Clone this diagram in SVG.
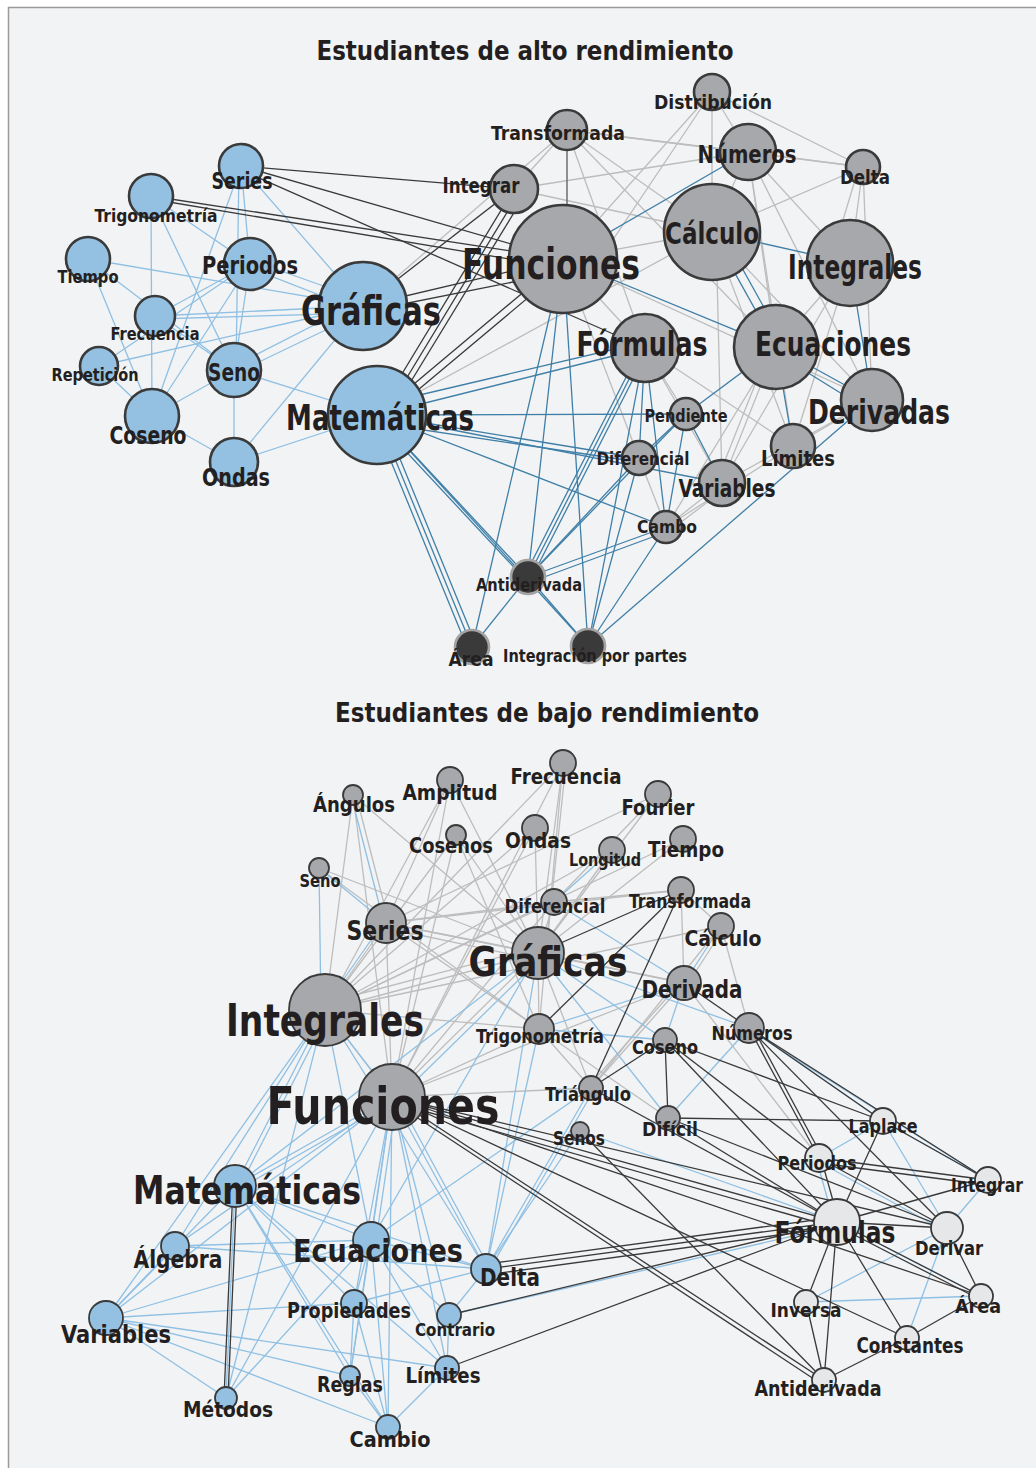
<svg xmlns="http://www.w3.org/2000/svg" width="1036" height="1468" viewBox="0 0 1036 1468">
<style>
.bg{fill:#f2f3f5;stroke:#9a9a9a;stroke-width:1.5}
text{font-family:"Liberation Sans Narrow","DejaVu Sans Condensed","Liberation Sans",sans-serif;font-weight:700;fill:#231f20;text-anchor:middle}
.ttl{font-weight:700}
.lb line{stroke:#8fc0e3;stroke-width:1.3}
.dk line{stroke:#3a3a3a;stroke-width:1.3}
.gy line{stroke:#bdbdbd;stroke-width:1.3}
.mg line{stroke:#6e6e6e;stroke-width:1.5}
.sb line{stroke:#3f7fa7;stroke-width:1.3}
.top circle{stroke:#3a3a3a;stroke-width:2.6}
.bot circle{stroke:#3a3a3a;stroke-width:1.8}
.nb circle{fill:#94c1e2}
.ng circle{fill:#a7a8ab}
.nd circle{fill:#3a3a3a;stroke:#a3a3a3}
.nw circle{fill:#e6e7e9}
</style>
<rect class="bg" x="8.5" y="7.5" width="1040" height="1470"/>
<text class="ttl" x="525" y="60" font-size="27" textLength="417" lengthAdjust="spacingAndGlyphs">Estudiantes de alto rendimiento</text>
<text class="ttl" x="547" y="722" font-size="27" textLength="424" lengthAdjust="spacingAndGlyphs">Estudiantes de bajo rendimiento</text>

<g id="edges-top">
<g class="lb">
<line x1="241" y1="166" x2="250" y2="264"/><line x1="241" y1="166" x2="363" y2="306"/><line x1="241" y1="166" x2="152" y2="416"/><line x1="239" y1="166" x2="236" y2="370"/>
<line x1="250" y1="264" x2="234" y2="370"/><line x1="250" y1="264" x2="152" y2="416"/>
<line x1="151" y1="196" x2="152" y2="416"/><line x1="151" y1="196" x2="234" y2="370"/><line x1="151" y1="196" x2="250" y2="264"/>
<line x1="88" y1="259" x2="363" y2="306"/><line x1="88" y1="259" x2="234" y2="370"/><line x1="88" y1="259" x2="152" y2="416"/>
<line x1="155" y1="316" x2="363" y2="306"/><line x1="155" y1="319" x2="363" y2="313"/><line x1="155" y1="316" x2="250" y2="264"/><line x1="155" y1="316" x2="234" y2="370"/>
<line x1="99" y1="366" x2="363" y2="306"/><line x1="99" y1="366" x2="250" y2="264"/><line x1="99" y1="366" x2="152" y2="416"/>
<line x1="152" y1="416" x2="234" y2="370"/><line x1="152" y1="416" x2="234" y2="462"/>
<line x1="234" y1="366" x2="363" y2="300"/><line x1="234" y1="374" x2="363" y2="312"/><line x1="234" y1="370" x2="234" y2="462"/><line x1="234" y1="370" x2="377" y2="415"/>
<line x1="234" y1="462" x2="363" y2="306"/><line x1="234" y1="462" x2="377" y2="415"/>
<line x1="250" y1="260" x2="363" y2="300"/><line x1="250" y1="268" x2="363" y2="312"/>
</g>
<g class="gy">
<line x1="712" y1="92" x2="748" y2="152"/><line x1="712" y1="92" x2="863" y2="167"/><line x1="712" y1="92" x2="712" y2="232"/><line x1="712" y1="92" x2="563" y2="259"/><line x1="712" y1="92" x2="600" y2="259"/>
<line x1="567" y1="130" x2="514" y2="189"/><line x1="567" y1="130" x2="748" y2="152"/><line x1="567" y1="130" x2="712" y2="232"/><line x1="567" y1="130" x2="776" y2="347"/><line x1="567" y1="130" x2="645" y2="348"/><line x1="567" y1="130" x2="863" y2="167"/><line x1="567" y1="130" x2="363" y2="306"/>
<line x1="514" y1="189" x2="748" y2="152"/><line x1="514" y1="189" x2="712" y2="232"/>
<line x1="748" y1="152" x2="863" y2="167"/><line x1="748" y1="152" x2="712" y2="232"/><line x1="748" y1="152" x2="850" y2="263"/><line x1="748" y1="152" x2="776" y2="347"/><line x1="748" y1="152" x2="872" y2="400"/><line x1="748" y1="152" x2="793" y2="446"/>
<line x1="863" y1="167" x2="712" y2="232"/><line x1="863" y1="167" x2="850" y2="263"/><line x1="859" y1="167" x2="830" y2="263"/><line x1="863" y1="167" x2="872" y2="400"/>
<line x1="563" y1="259" x2="712" y2="232"/><line x1="563" y1="259" x2="645" y2="348"/><line x1="563" y1="259" x2="872" y2="400"/><line x1="563" y1="259" x2="639" y2="458"/>
<line x1="377" y1="415" x2="712" y2="232"/>
<line x1="716" y1="232" x2="722" y2="483"/><line x1="712" y1="232" x2="872" y2="400"/><line x1="712" y1="232" x2="793" y2="446"/>
<line x1="850" y1="263" x2="776" y2="347"/><line x1="850" y1="263" x2="793" y2="446"/><line x1="850" y1="263" x2="722" y2="483"/>
<line x1="776" y1="347" x2="722" y2="483"/><line x1="770" y1="347" x2="716" y2="483"/><line x1="776" y1="347" x2="666" y2="527"/>
<line x1="645" y1="348" x2="793" y2="446"/><line x1="645" y1="348" x2="722" y2="483"/><line x1="645" y1="348" x2="686" y2="414"/>
<line x1="872" y1="400" x2="793" y2="446"/><line x1="872" y1="400" x2="722" y2="483"/>
<line x1="639" y1="458" x2="666" y2="527"/><line x1="722" y1="483" x2="666" y2="527"/><line x1="726" y1="488" x2="668" y2="532"/><line x1="793" y1="446" x2="666" y2="527"/>
</g>
<g class="mg"><line x1="567" y1="130" x2="567" y2="259"/></g>
<g class="dk">
<line x1="241" y1="166" x2="514" y2="189"/><line x1="241" y1="166" x2="563" y2="259"/><line x1="241" y1="170" x2="645" y2="348"/>
<line x1="151" y1="196" x2="563" y2="259"/><line x1="151" y1="199" x2="563" y2="268"/>
<line x1="363" y1="306" x2="563" y2="259"/><line x1="363" y1="312" x2="563" y2="272"/><line x1="363" y1="306" x2="514" y2="189"/>
<line x1="377" y1="415" x2="514" y2="189"/><line x1="383" y1="417" x2="520" y2="191"/><line x1="388" y1="419" x2="526" y2="193"/>
<line x1="377" y1="415" x2="563" y2="259"/><line x1="381" y1="421" x2="567" y2="265"/>
</g>
<g class="sb">
<line x1="563" y1="259" x2="748" y2="152"/><line x1="563" y1="259" x2="776" y2="347"/>
<line x1="712" y1="232" x2="850" y2="263"/><line x1="712" y1="232" x2="776" y2="347"/><line x1="722" y1="232" x2="786" y2="347"/>
<line x1="850" y1="263" x2="872" y2="400"/><line x1="776" y1="347" x2="872" y2="400"/><line x1="776" y1="353" x2="868" y2="410"/><line x1="776" y1="347" x2="793" y2="446"/><line x1="776" y1="347" x2="686" y2="414"/>
<line x1="645" y1="348" x2="639" y2="458"/><line x1="645" y1="348" x2="666" y2="527"/><line x1="645" y1="348" x2="528" y2="577"/><line x1="641" y1="348" x2="524" y2="577"/><line x1="649" y1="348" x2="532" y2="577"/><line x1="645" y1="348" x2="588" y2="646"/><line x1="645" y1="348" x2="377" y2="415"/><line x1="645" y1="342" x2="377" y2="405"/>
<line x1="872" y1="400" x2="588" y2="646"/>
<line x1="686" y1="414" x2="722" y2="483"/><line x1="686" y1="414" x2="666" y2="527"/><line x1="686" y1="414" x2="639" y2="458"/><line x1="686" y1="414" x2="377" y2="415"/><line x1="686" y1="414" x2="528" y2="577"/>
<line x1="639" y1="458" x2="377" y2="415"/><line x1="639" y1="462" x2="377" y2="423"/><line x1="639" y1="458" x2="528" y2="577"/><line x1="639" y1="458" x2="588" y2="646"/>
<line x1="666" y1="527" x2="528" y2="577"/><line x1="666" y1="532" x2="528" y2="583"/><line x1="666" y1="527" x2="588" y2="646"/><line x1="666" y1="527" x2="377" y2="415"/>
<line x1="528" y1="577" x2="377" y2="415"/><line x1="523" y1="577" x2="372" y2="415"/><line x1="528" y1="577" x2="588" y2="646"/><line x1="528" y1="577" x2="472" y2="647"/><line x1="528" y1="577" x2="563" y2="259"/>
<line x1="472" y1="647" x2="377" y2="415"/><line x1="467" y1="647" x2="372" y2="415"/><line x1="477" y1="647" x2="382" y2="415"/><line x1="472" y1="647" x2="563" y2="259"/>
<line x1="588" y1="646" x2="563" y2="259"/><line x1="588" y1="646" x2="377" y2="415"/><line x1="377" y1="415" x2="722" y2="483"/>
</g>
</g>

<g id="edges-bottom">
<g class="gy">
<line x1="353" y1="795" x2="325" y2="1010"/><line x1="356" y1="795" x2="389" y2="923"/><line x1="353" y1="795" x2="538" y2="953"/><line x1="353" y1="795" x2="392" y2="1097"/>
<line x1="450" y1="780" x2="325" y2="1010"/><line x1="450" y1="780" x2="392" y2="1097"/><line x1="450" y1="780" x2="538" y2="953"/><line x1="450" y1="780" x2="386" y2="923"/>
<line x1="456" y1="835" x2="392" y2="1097"/><line x1="456" y1="835" x2="538" y2="953"/><line x1="456" y1="835" x2="325" y2="1010"/><line x1="456" y1="835" x2="539" y2="1029"/>
<line x1="563" y1="763" x2="325" y2="1010"/><line x1="563" y1="763" x2="538" y2="953"/><line x1="566" y1="763" x2="546" y2="953"/><line x1="563" y1="763" x2="539" y2="1029"/><line x1="563" y1="763" x2="392" y2="1097"/>
<line x1="658" y1="794" x2="538" y2="953"/><line x1="658" y1="794" x2="386" y2="923"/><line x1="658" y1="794" x2="554" y2="902"/>
<line x1="535" y1="828" x2="538" y2="953"/><line x1="535" y1="828" x2="325" y2="1010"/><line x1="535" y1="828" x2="392" y2="1097"/>
<line x1="612" y1="850" x2="538" y2="953"/><line x1="612" y1="850" x2="325" y2="1010"/>
<line x1="683" y1="839" x2="538" y2="953"/><line x1="683" y1="839" x2="325" y2="1010"/>
<line x1="319" y1="868" x2="538" y2="953"/><line x1="319" y1="868" x2="539" y2="1029"/>
<line x1="386" y1="923" x2="538" y2="953"/><line x1="386" y1="928" x2="538" y2="960"/><line x1="386" y1="923" x2="325" y2="1010"/><line x1="386" y1="923" x2="392" y2="1097"/><line x1="386" y1="923" x2="554" y2="902"/><line x1="386" y1="923" x2="684" y2="983"/><line x1="386" y1="923" x2="539" y2="1029"/>
<line x1="554" y1="902" x2="538" y2="953"/><line x1="554" y1="902" x2="325" y2="1010"/><line x1="554" y1="902" x2="392" y2="1097"/>
<line x1="681" y1="890" x2="684" y2="983"/><line x1="681" y1="890" x2="721" y2="926"/><line x1="681" y1="890" x2="554" y2="902"/><line x1="681" y1="890" x2="386" y2="923"/>
<line x1="721" y1="926" x2="749" y2="1028"/><line x1="721" y1="926" x2="325" y2="1010"/><line x1="721" y1="926" x2="591" y2="1088"/><line x1="724" y1="928" x2="687" y2="985"/>
<line x1="538" y1="953" x2="325" y2="1010"/><line x1="538" y1="947" x2="325" y2="1003"/><line x1="538" y1="953" x2="392" y2="1097"/><line x1="538" y1="953" x2="539" y2="1029"/><line x1="538" y1="953" x2="684" y2="983"/><line x1="538" y1="953" x2="591" y2="1088"/>
<line x1="325" y1="1010" x2="392" y2="1097"/><line x1="325" y1="1010" x2="539" y2="1029"/>
<line x1="684" y1="983" x2="591" y2="1088"/><line x1="680" y1="983" x2="587" y2="1088"/><line x1="684" y1="983" x2="392" y2="1097"/><line x1="684" y1="983" x2="819" y2="1158"/>
<line x1="539" y1="1029" x2="392" y2="1097"/><line x1="539" y1="1029" x2="591" y2="1088"/><line x1="539" y1="1029" x2="668" y2="1118"/>
<line x1="591" y1="1088" x2="392" y2="1097"/>
</g>
<g class="lb">
<line x1="351" y1="795" x2="384" y2="923"/><line x1="319" y1="868" x2="321" y2="1010"/><line x1="319" y1="868" x2="386" y2="923"/><line x1="383" y1="923" x2="322" y2="1010"/>
<line x1="612" y1="850" x2="554" y2="902"/><line x1="554" y1="902" x2="684" y2="983"/>
<line x1="538" y1="953" x2="749" y2="1028"/><line x1="538" y1="953" x2="665" y2="1040"/><line x1="538" y1="953" x2="668" y2="1118"/><line x1="541" y1="958" x2="395" y2="1101"/>
<line x1="721" y1="926" x2="684" y2="983"/><line x1="684" y1="983" x2="539" y2="1029"/><line x1="684" y1="983" x2="665" y2="1040"/><line x1="539" y1="1029" x2="665" y2="1040"/>
<line x1="539" y1="1029" x2="486" y2="1269"/><line x1="591" y1="1088" x2="486" y2="1269"/><line x1="595" y1="1088" x2="490" y2="1269"/><line x1="591" y1="1088" x2="371" y2="1240"/>
<line x1="580" y1="1131" x2="486" y2="1269"/><line x1="580" y1="1131" x2="837" y2="1222"/>
<line x1="749" y1="1028" x2="668" y2="1118"/><line x1="749" y1="1028" x2="883" y2="1121"/><line x1="753" y1="1032" x2="988" y2="1180"/>
<line x1="235" y1="1186" x2="325" y2="1010"/><line x1="240" y1="1186" x2="330" y2="1010"/><line x1="235" y1="1186" x2="392" y2="1097"/><line x1="235" y1="1191" x2="392" y2="1102"/><line x1="235" y1="1186" x2="538" y2="953"/>
<line x1="235" y1="1186" x2="371" y2="1240"/><line x1="235" y1="1186" x2="486" y2="1269"/><line x1="235" y1="1186" x2="350" y2="1376"/><line x1="235" y1="1186" x2="388" y2="1427"/><line x1="235" y1="1186" x2="106" y2="1318"/><line x1="235" y1="1186" x2="354" y2="1303"/><line x1="235" y1="1186" x2="447" y2="1368"/>
<line x1="175" y1="1246" x2="371" y2="1240"/><line x1="175" y1="1246" x2="325" y2="1010"/><line x1="175" y1="1246" x2="392" y2="1097"/><line x1="175" y1="1246" x2="486" y2="1269"/><line x1="175" y1="1246" x2="106" y2="1318"/>
<line x1="106" y1="1318" x2="325" y2="1010"/><line x1="106" y1="1318" x2="392" y2="1097"/><line x1="106" y1="1318" x2="371" y2="1240"/><line x1="106" y1="1318" x2="354" y2="1303"/><line x1="106" y1="1318" x2="447" y2="1368"/><line x1="106" y1="1318" x2="350" y2="1376"/><line x1="106" y1="1318" x2="388" y2="1427"/><line x1="106" y1="1318" x2="226" y2="1398"/>
<line x1="371" y1="1240" x2="392" y2="1097"/><line x1="376" y1="1240" x2="397" y2="1097"/><line x1="371" y1="1240" x2="325" y2="1010"/><line x1="371" y1="1240" x2="538" y2="953"/><line x1="371" y1="1240" x2="486" y2="1269"/><line x1="371" y1="1240" x2="449" y2="1315"/><line x1="371" y1="1240" x2="354" y2="1303"/><line x1="371" y1="1240" x2="388" y2="1427"/><line x1="371" y1="1240" x2="226" y2="1398"/><line x1="371" y1="1240" x2="447" y2="1368"/><line x1="371" y1="1240" x2="350" y2="1376"/>
<line x1="354" y1="1303" x2="392" y2="1097"/><line x1="354" y1="1303" x2="350" y2="1376"/><line x1="354" y1="1303" x2="388" y2="1427"/><line x1="354" y1="1303" x2="486" y2="1269"/>
<line x1="449" y1="1315" x2="392" y2="1097"/><line x1="449" y1="1315" x2="447" y2="1368"/><line x1="449" y1="1315" x2="486" y2="1269"/>
<line x1="350" y1="1376" x2="392" y2="1097"/><line x1="350" y1="1376" x2="388" y2="1427"/><line x1="447" y1="1368" x2="392" y2="1097"/><line x1="447" y1="1368" x2="388" y2="1427"/><line x1="388" y1="1427" x2="392" y2="1097"/>
<line x1="226" y1="1398" x2="392" y2="1097"/><line x1="226" y1="1398" x2="325" y2="1010"/><line x1="235" y1="1186" x2="226" y2="1398"/>
<line x1="486" y1="1269" x2="392" y2="1097"/><line x1="490" y1="1269" x2="397" y2="1097"/><line x1="486" y1="1269" x2="538" y2="953"/><line x1="486" y1="1269" x2="325" y2="1010"/>
<line x1="325" y1="1010" x2="392" y2="1097"/><line x1="837" y1="1226" x2="449" y2="1315"/>
<line x1="883" y1="1121" x2="819" y2="1158"/><line x1="883" y1="1121" x2="947" y2="1228"/><line x1="883" y1="1121" x2="988" y2="1180"/>
<line x1="816" y1="1158" x2="834" y2="1222"/><line x1="819" y1="1162" x2="947" y2="1232"/><line x1="988" y1="1180" x2="947" y2="1228"/>
<line x1="947" y1="1228" x2="806" y2="1302"/><line x1="947" y1="1228" x2="907" y2="1338"/><line x1="806" y1="1302" x2="981" y2="1296"/><line x1="837" y1="1222" x2="981" y2="1296"/>
</g>
<g class="dk">
<line x1="233" y1="1186" x2="224" y2="1398"/><line x1="237" y1="1186" x2="228" y2="1398"/>
<line x1="681" y1="890" x2="538" y2="953"/><line x1="681" y1="890" x2="591" y2="1088"/><line x1="681" y1="890" x2="539" y2="1029"/>
<line x1="665" y1="1040" x2="591" y2="1088"/><line x1="665" y1="1040" x2="668" y2="1118"/><line x1="665" y1="1040" x2="819" y2="1158"/><line x1="665" y1="1040" x2="883" y2="1121"/><line x1="665" y1="1040" x2="837" y2="1222"/>
<line x1="684" y1="983" x2="749" y2="1028"/>
<line x1="749" y1="1028" x2="819" y2="1158"/><line x1="753" y1="1028" x2="823" y2="1158"/><line x1="749" y1="1028" x2="883" y2="1121"/><line x1="749" y1="1028" x2="947" y2="1228"/><line x1="749" y1="1028" x2="988" y2="1180"/>
<line x1="668" y1="1118" x2="883" y2="1121"/><line x1="668" y1="1118" x2="837" y2="1222"/><line x1="668" y1="1118" x2="947" y2="1228"/>
<line x1="591" y1="1088" x2="837" y2="1222"/><line x1="580" y1="1131" x2="824" y2="1380"/>
<line x1="392" y1="1097" x2="837" y2="1222"/><line x1="392" y1="1102" x2="837" y2="1228"/><line x1="392" y1="1097" x2="824" y2="1380"/><line x1="392" y1="1101" x2="820" y2="1383"/><line x1="392" y1="1097" x2="947" y2="1228"/><line x1="392" y1="1097" x2="907" y2="1338"/><line x1="392" y1="1097" x2="981" y2="1296"/>
<line x1="883" y1="1121" x2="837" y2="1222"/><line x1="883" y1="1121" x2="988" y2="1180"/>
<line x1="819" y1="1158" x2="988" y2="1180"/><line x1="819" y1="1163" x2="988" y2="1185"/><line x1="821" y1="1158" x2="839" y2="1222"/><line x1="819" y1="1158" x2="947" y2="1228"/>
<line x1="988" y1="1180" x2="837" y2="1222"/><line x1="837" y1="1222" x2="947" y2="1228"/><line x1="837" y1="1222" x2="806" y2="1302"/><line x1="837" y1="1222" x2="824" y2="1380"/><line x1="837" y1="1222" x2="907" y2="1338"/><line x1="837" y1="1222" x2="981" y2="1296"/><line x1="837" y1="1226" x2="981" y2="1300"/>
<line x1="837" y1="1222" x2="486" y2="1269"/><line x1="837" y1="1217" x2="486" y2="1264"/><line x1="837" y1="1227" x2="486" y2="1275"/><line x1="837" y1="1222" x2="449" y2="1315"/><line x1="837" y1="1222" x2="447" y2="1368"/>
<line x1="947" y1="1228" x2="981" y2="1296"/><line x1="806" y1="1302" x2="824" y2="1380"/><line x1="907" y1="1338" x2="824" y2="1380"/><line x1="907" y1="1338" x2="981" y2="1296"/>
</g>
</g>

<g class="top">
<g id="a-series" class="nb"><circle cx="241" cy="166" r="22"/><text x="242" y="189" font-size="23" textLength="61" lengthAdjust="spacingAndGlyphs">Series</text></g>
<g id="a-trigonometria" class="nb"><circle cx="151" cy="196" r="22"/><text x="156" y="222" font-size="18" textLength="123" lengthAdjust="spacingAndGlyphs">Trigonometría</text></g>
<g id="a-tiempo" class="nb"><circle cx="88" cy="259" r="22"/><text x="88" y="283" font-size="17" textLength="61" lengthAdjust="spacingAndGlyphs">Tiempo</text></g>
<g id="a-periodos" class="nb"><circle cx="250" cy="264" r="26"/><text x="250" y="274" font-size="25" textLength="96" lengthAdjust="spacingAndGlyphs">Periodos</text></g>
<g id="a-frecuencia" class="nb"><circle cx="155" cy="316" r="20"/><text x="155" y="340" font-size="17" textLength="89" lengthAdjust="spacingAndGlyphs">Frecuencia</text></g>
<g id="a-repeticion" class="nb"><circle cx="99" cy="366" r="19"/><text x="95" y="381" font-size="17" textLength="87" lengthAdjust="spacingAndGlyphs">Repetición</text></g>
<g id="a-seno" class="nb"><circle cx="234" cy="370" r="27"/><text x="234" y="381" font-size="25" textLength="52" lengthAdjust="spacingAndGlyphs">Seno</text></g>
<g id="a-coseno" class="nb"><circle cx="152" cy="416" r="27"/><text x="148" y="444" font-size="25" textLength="77" lengthAdjust="spacingAndGlyphs">Coseno</text></g>
<g id="a-ondas" class="nb"><circle cx="234" cy="462" r="24"/><text x="236" y="486" font-size="25" textLength="68" lengthAdjust="spacingAndGlyphs">Ondas</text></g>
<g id="a-graficas" class="nb"><circle cx="363" cy="306" r="44"/><text x="371" y="325" font-size="40" textLength="140" lengthAdjust="spacingAndGlyphs">Gráficas</text></g>
<g id="a-matematicas" class="nb"><circle cx="377" cy="415" r="49"/><text x="380" y="430" font-size="36" textLength="188" lengthAdjust="spacingAndGlyphs">Matemáticas</text></g>
<g id="a-distribucion" class="ng"><circle cx="712" cy="92" r="18"/><text x="713" y="109" font-size="19" textLength="118" lengthAdjust="spacingAndGlyphs">Distribución</text></g>
<g id="a-transformada" class="ng"><circle cx="567" cy="130" r="20"/><text x="558" y="140" font-size="20" textLength="134" lengthAdjust="spacingAndGlyphs">Transformada</text></g>
<g id="a-numeros" class="ng"><circle cx="748" cy="152" r="28"/><text x="747" y="163" font-size="24" textLength="99" lengthAdjust="spacingAndGlyphs">Números</text></g>
<g id="a-delta" class="ng"><circle cx="863" cy="167" r="17"/><text x="865" y="184" font-size="19" textLength="50" lengthAdjust="spacingAndGlyphs">Delta</text></g>
<g id="a-integrar" class="ng"><circle cx="514" cy="189" r="24"/><text x="481" y="193" font-size="21" textLength="77" lengthAdjust="spacingAndGlyphs">Integrar</text></g>
<g id="a-funciones" class="ng"><circle cx="563" cy="259" r="54"/><text x="551" y="279" font-size="43" textLength="178" lengthAdjust="spacingAndGlyphs">Funciones</text></g>
<g id="a-calculo" class="ng"><circle cx="712" cy="232" r="48"/><text x="712" y="244" font-size="31" textLength="94" lengthAdjust="spacingAndGlyphs">Cálculo</text></g>
<g id="a-integrales" class="ng"><circle cx="850" cy="263" r="43"/><text x="855" y="279" font-size="33" textLength="134" lengthAdjust="spacingAndGlyphs">Integrales</text></g>
<g id="a-formulas" class="ng"><circle cx="645" cy="348" r="34"/><text x="642" y="356" font-size="33" textLength="131" lengthAdjust="spacingAndGlyphs">Fórmulas</text></g>
<g id="a-ecuaciones" class="ng"><circle cx="776" cy="347" r="42"/><text x="833" y="356" font-size="33" textLength="156" lengthAdjust="spacingAndGlyphs">Ecuaciones</text></g>
<g id="a-derivadas" class="ng"><circle cx="872" cy="400" r="31"/><text x="879" y="424" font-size="33" textLength="142" lengthAdjust="spacingAndGlyphs">Derivadas</text></g>
<g id="a-pendiente" class="ng"><circle cx="686" cy="414" r="16"/><text x="686" y="422" font-size="17" textLength="83" lengthAdjust="spacingAndGlyphs">Pendiente</text></g>
<g id="a-limites" class="ng"><circle cx="793" cy="446" r="22"/><text x="798" y="466" font-size="22" textLength="74" lengthAdjust="spacingAndGlyphs">Límites</text></g>
<g id="a-diferencial" class="ng"><circle cx="639" cy="458" r="17"/><text x="643" y="465" font-size="18" textLength="93" lengthAdjust="spacingAndGlyphs">Diferencial</text></g>
<g id="a-variables" class="ng"><circle cx="722" cy="483" r="23"/><text x="727" y="497" font-size="24" textLength="97" lengthAdjust="spacingAndGlyphs">Variables</text></g>
<g id="a-cambo" class="ng"><circle cx="666" cy="527" r="16"/><text x="667" y="533" font-size="17" textLength="60" lengthAdjust="spacingAndGlyphs">Cambo</text></g>
<g id="a-antiderivada" class="nd"><circle cx="528" cy="577" r="17"/><text x="529" y="591" font-size="17" textLength="106" lengthAdjust="spacingAndGlyphs">Antiderivada</text></g>
<g id="a-area" class="nd"><circle cx="472" cy="647" r="17"/><text x="471" y="666" font-size="20" textLength="45" lengthAdjust="spacingAndGlyphs">Área</text></g>
<g id="a-integracion" class="nd"><circle cx="588" cy="646" r="17"/><text x="595" y="662" font-size="17" textLength="184" lengthAdjust="spacingAndGlyphs">Integración por partes</text></g>
</g>

<g class="bot">
<g id="b-angulos" class="ng"><circle cx="353" cy="795" r="10"/><text x="354" y="812" font-size="21" textLength="82" lengthAdjust="spacingAndGlyphs">Ángulos</text></g>
<g id="b-amplitud" class="ng"><circle cx="450" cy="780" r="13"/><text x="450" y="800" font-size="22" textLength="95" lengthAdjust="spacingAndGlyphs">Amplitud</text></g>
<g id="b-frecuencia" class="ng"><circle cx="563" cy="763" r="13"/><text x="566" y="784" font-size="22" textLength="111" lengthAdjust="spacingAndGlyphs">Frecuencia</text></g>
<g id="b-fourier" class="ng"><circle cx="658" cy="794" r="13"/><text x="658" y="815" font-size="22" textLength="73" lengthAdjust="spacingAndGlyphs">Fourier</text></g>
<g id="b-cosenos" class="ng"><circle cx="456" cy="835" r="10"/><text x="451" y="853" font-size="22" textLength="84" lengthAdjust="spacingAndGlyphs">Cosenos</text></g>
<g id="b-ondas" class="ng"><circle cx="535" cy="828" r="13"/><text x="538" y="848" font-size="22" textLength="66" lengthAdjust="spacingAndGlyphs">Ondas</text></g>
<g id="b-longitud" class="ng"><circle cx="612" cy="850" r="13"/><text x="605" y="866" font-size="17" textLength="72" lengthAdjust="spacingAndGlyphs">Longitud</text></g>
<g id="b-tiempo" class="ng"><circle cx="683" cy="839" r="13"/><text x="686" y="857" font-size="22" textLength="76" lengthAdjust="spacingAndGlyphs">Tiempo</text></g>
<g id="b-seno" class="ng"><circle cx="319" cy="868" r="10"/><text x="320" y="887" font-size="17" textLength="41" lengthAdjust="spacingAndGlyphs">Seno</text></g>
<g id="b-series" class="ng"><circle cx="386" cy="923" r="20"/><text x="385" y="940" font-size="26" textLength="77" lengthAdjust="spacingAndGlyphs">Series</text></g>
<g id="b-diferencial" class="ng"><circle cx="554" cy="902" r="13"/><text x="555" y="913" font-size="20" textLength="101" lengthAdjust="spacingAndGlyphs">Diferencial</text></g>
<g id="b-transformada" class="ng"><circle cx="681" cy="890" r="13"/><text x="690" y="908" font-size="19" textLength="122" lengthAdjust="spacingAndGlyphs">Transformada</text></g>
<g id="b-calculo" class="ng"><circle cx="721" cy="926" r="13"/><text x="723" y="946" font-size="22" textLength="77" lengthAdjust="spacingAndGlyphs">Cálculo</text></g>
<g id="b-graficas" class="ng"><circle cx="538" cy="953" r="26"/><text x="548" y="976" font-size="40" textLength="159" lengthAdjust="spacingAndGlyphs">Gráficas</text></g>
<g id="b-integrales" class="ng"><circle cx="325" cy="1010" r="36"/><text x="325" y="1036" font-size="44" textLength="198" lengthAdjust="spacingAndGlyphs">Integrales</text></g>
<g id="b-derivada" class="ng"><circle cx="684" cy="983" r="17"/><text x="692" y="998" font-size="24" textLength="101" lengthAdjust="spacingAndGlyphs">Derivada</text></g>
<g id="b-trigonometria" class="ng"><circle cx="539" cy="1029" r="15"/><text x="540" y="1043" font-size="19" textLength="128" lengthAdjust="spacingAndGlyphs">Trigonometría</text></g>
<g id="b-coseno" class="ng"><circle cx="665" cy="1040" r="12"/><text x="665" y="1054" font-size="19" textLength="66" lengthAdjust="spacingAndGlyphs">Coseno</text></g>
<g id="b-numeros" class="ng"><circle cx="749" cy="1028" r="15"/><text x="752" y="1040" font-size="19" textLength="81" lengthAdjust="spacingAndGlyphs">Números</text></g>
<g id="b-funciones" class="ng"><circle cx="392" cy="1097" r="33"/><text x="383" y="1124" font-size="52" textLength="233" lengthAdjust="spacingAndGlyphs">Funciones</text></g>
<g id="b-triangulo" class="ng"><circle cx="591" cy="1088" r="12"/><text x="588" y="1101" font-size="19" textLength="86" lengthAdjust="spacingAndGlyphs">Triángulo</text></g>
<g id="b-senos" class="ng"><circle cx="580" cy="1131" r="9"/><text x="579" y="1145" font-size="19" textLength="52" lengthAdjust="spacingAndGlyphs">Senos</text></g>
<g id="b-dificil" class="ng"><circle cx="668" cy="1118" r="12"/><text x="670" y="1136" font-size="19" textLength="56" lengthAdjust="spacingAndGlyphs">Difícil</text></g>
<g id="b-matematicas" class="nb"><circle cx="235" cy="1186" r="21"/><text x="247" y="1204" font-size="39" textLength="228" lengthAdjust="spacingAndGlyphs">Matemáticas</text></g>
<g id="b-algebra" class="nb"><circle cx="175" cy="1246" r="14"/><text x="178" y="1268" font-size="24" textLength="89" lengthAdjust="spacingAndGlyphs">Álgebra</text></g>
<g id="b-ecuaciones" class="nb"><circle cx="371" cy="1240" r="18"/><text x="378" y="1262" font-size="32" textLength="170" lengthAdjust="spacingAndGlyphs">Ecuaciones</text></g>
<g id="b-delta" class="nb"><circle cx="486" cy="1269" r="15"/><text x="510" y="1286" font-size="24" textLength="60" lengthAdjust="spacingAndGlyphs">Delta</text></g>
<g id="b-variables" class="nb"><circle cx="106" cy="1318" r="17"/><text x="116" y="1343" font-size="25" textLength="110" lengthAdjust="spacingAndGlyphs">Variables</text></g>
<g id="b-propiedades" class="nb"><circle cx="354" cy="1303" r="13"/><text x="349" y="1318" font-size="22" textLength="124" lengthAdjust="spacingAndGlyphs">Propiedades</text></g>
<g id="b-contrario" class="nb"><circle cx="449" cy="1315" r="12"/><text x="455" y="1336" font-size="17" textLength="80" lengthAdjust="spacingAndGlyphs">Contrario</text></g>
<g id="b-reglas" class="nb"><circle cx="350" cy="1376" r="10"/><text x="350" y="1392" font-size="21" textLength="66" lengthAdjust="spacingAndGlyphs">Reglas</text></g>
<g id="b-limites" class="nb"><circle cx="447" cy="1368" r="12"/><text x="443" y="1383" font-size="21" textLength="75" lengthAdjust="spacingAndGlyphs">Límites</text></g>
<g id="b-metodos" class="nb"><circle cx="226" cy="1398" r="11"/><text x="228" y="1417" font-size="22" textLength="90" lengthAdjust="spacingAndGlyphs">Métodos</text></g>
<g id="b-cambio" class="nb"><circle cx="388" cy="1427" r="12"/><text x="390" y="1447" font-size="22" textLength="81" lengthAdjust="spacingAndGlyphs">Cambio</text></g>
<g id="b-laplace" class="nw"><circle cx="883" cy="1121" r="13"/><text x="883" y="1133" font-size="19" textLength="69" lengthAdjust="spacingAndGlyphs">Laplace</text></g>
<g id="b-periodos" class="nw"><circle cx="819" cy="1158" r="14"/><text x="817" y="1170" font-size="19" textLength="79" lengthAdjust="spacingAndGlyphs">Periodos</text></g>
<g id="b-integrar" class="nw"><circle cx="988" cy="1180" r="13"/><text x="987" y="1192" font-size="19" textLength="72" lengthAdjust="spacingAndGlyphs">Integrar</text></g>
<g id="b-formulas" class="nw"><circle cx="837" cy="1222" r="23"/><text x="835" y="1243" font-size="30" textLength="121" lengthAdjust="spacingAndGlyphs">Fórmulas</text></g>
<g id="b-derivar" class="nw"><circle cx="947" cy="1228" r="16"/><text x="949" y="1255" font-size="19" textLength="68" lengthAdjust="spacingAndGlyphs">Derivar</text></g>
<g id="b-inversa" class="nw"><circle cx="806" cy="1302" r="12"/><text x="806" y="1317" font-size="20" textLength="71" lengthAdjust="spacingAndGlyphs">Inversa</text></g>
<g id="b-area" class="nw"><circle cx="981" cy="1296" r="12"/><text x="978" y="1313" font-size="20" textLength="46" lengthAdjust="spacingAndGlyphs">Área</text></g>
<g id="b-constantes" class="nw"><circle cx="907" cy="1338" r="12"/><text x="910" y="1353" font-size="21" textLength="107" lengthAdjust="spacingAndGlyphs">Constantes</text></g>
<g id="b-antiderivada" class="nw"><circle cx="824" cy="1380" r="12"/><text x="818" y="1396" font-size="21" textLength="127" lengthAdjust="spacingAndGlyphs">Antiderivada</text></g>
</g>
</svg>
